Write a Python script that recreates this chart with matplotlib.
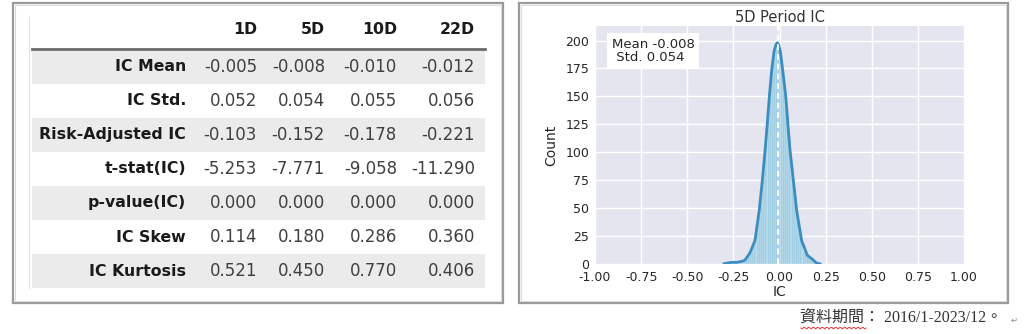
import numpy as np
import matplotlib.pyplot as plt
from matplotlib.patches import Rectangle

plt.rcParams["axes.unicode_minus"] = False

# ---- table data ----
periods = ["1D", "5D", "10D", "22D"]
row_names = ["IC Mean", "IC Std.", "Risk-Adjusted IC", "t-stat(IC)",
             "p-value(IC)", "IC Skew", "IC Kurtosis"]
ic_mean = [-0.005, -0.008, -0.010, -0.012]
ic_std = [0.052, 0.054, 0.055, 0.056]
risk_adj_ic = [-0.103, -0.152, -0.178, -0.221]
t_stat = [-5.253, -7.771, -9.058, -11.290]
p_value = [0.000, 0.000, 0.000, 0.000]
ic_skew = [0.114, 0.180, 0.286, 0.360]
ic_kurt = [0.521, 0.450, 0.770, 0.406]
table_rows = [ic_mean, ic_std, risk_adj_ic, t_stat, p_value, ic_skew, ic_kurt]

# ---- 5D IC histogram (bin width 0.01, first bin starts at -0.28) ----
bin_left = -0.28
bin_width = 0.01
bin_counts = [1, 1, 2, 1, 2, 1, 2, 2, 3, 4, 5, 8, 11, 15, 20, 30, 41, 55,
              72, 88, 108, 128, 150, 168, 184, 193, 197, 196, 190, 178, 163,
              148, 127, 106, 90, 74, 58, 45, 33, 24, 17, 12, 9, 6, 5, 4, 3,
              2, 1, 1]
kde_x = [-0.30, -0.26, -0.23, -0.20, -0.187, -0.16, -0.133, -0.11, -0.093,
         -0.078, -0.069, -0.055, -0.042, -0.030, -0.020, -0.012, -0.004,
         0.005, 0.017, 0.034, 0.048, 0.057, 0.075, 0.093, 0.12, 0.15,
         0.183, 0.20, 0.22]
kde_y = [0.3, 1.5, 1.5, 2.5, 3.5, 10, 21, 48, 75, 102, 120, 150, 174, 190,
         196, 198, 196, 190, 174, 150, 120, 102, 75, 48, 21, 8, 3.5, 1, 0]
mean_5d = -0.008
std_5d = 0.054

fig = plt.figure(figsize=(10.24, 3.34), dpi=100)

# background layer in pixel units for the table and frames
bg = fig.add_axes([0, 0, 1, 1])
bg.set_xlim(0, 1024)
bg.set_ylim(334, 0)
bg.axis("off")

for x0, x1 in [(12.5, 503), (519, 1008)]:
    bg.add_patch(Rectangle((x0, 3), x1 - x0, 300, fill=False,
                           edgecolor="#9a9a9a", lw=1.6))
    bg.add_patch(Rectangle((x0 + 2, 5), x1 - x0 - 4, 296, fill=False,
                           edgecolor="#dcdcdc", lw=0.8))

# table
col_x = [257, 325, 397, 475]
label_x = 186
row_y0, row_h = 66.5, 34.1
tbl_l, tbl_r = 32, 485

bg.plot([29, 29], [17, 288], color="#d6e4f0", lw=0.8)
for i, name in enumerate(row_names):
    yc = row_y0 + i * row_h
    if i % 2 == 0:
        bg.add_patch(Rectangle((tbl_l, yc - row_h / 2), tbl_r - tbl_l, row_h,
                               facecolor="#ebebeb", edgecolor="none"))
    bg.text(label_x, yc, name, ha="right", va="center", fontsize=11.3,
            fontweight="bold", color="#1a1a1a")
    for x, v in zip(col_x, table_rows[i]):
        bg.text(x, yc, f"{v:.3f}", ha="right", va="center", fontsize=12,
                color="#404040")
for x, p in zip(col_x, periods):
    bg.text(x, 30, p, ha="right", va="center", fontsize=11.3,
            fontweight="bold", color="#1a1a1a")
bg.plot([tbl_l, tbl_r], [48.5, 48.5], color="#6a6a6a", lw=2)

# histogram panel
ax = fig.add_axes([595 / 1024, 70 / 334, 369 / 1024, 238 / 334])
ax.set_facecolor("#e5e5ef")
edges = bin_left + bin_width * np.arange(len(bin_counts) + 1)
ax.bar(edges[:-1], bin_counts, width=bin_width, align="edge",
       color="#94c7e0", edgecolor="#eef6fb", lw=0.25, zorder=2)
ax.plot(kde_x, kde_y, color="#3b8dc0", lw=2, zorder=3)
ax.axvline(mean_5d, ymax=1.03, color="white", ls=(0, (3, 2)), lw=1.4,
           zorder=4, clip_on=False)
ax.set_xlim(-1, 1)
ax.set_ylim(0, 213)
ax.set_xticks(np.arange(-1, 1.01, 0.25))
ax.set_yticks(np.arange(0, 201, 25))
ax.grid(True, color="white", lw=1, zorder=0)
ax.set_axisbelow(True)
for s in ax.spines.values():
    s.set_visible(False)
ax.tick_params(length=0, labelsize=9, colors="#262626")
ax.tick_params(axis="x", pad=5)
ax.tick_params(axis="y", pad=4)
ax.set_xlabel("IC", fontsize=10, color="#262626", labelpad=1)
ax.set_ylabel("Count", fontsize=10, color="#262626", labelpad=5)
ax.set_title("5D Period IC", fontsize=10.5, color="#333333", pad=3)
ax.text(0.045, 0.95, f"Mean {mean_5d:.3f}\n Std. {std_5d:.3f}",
        transform=ax.transAxes, ha="left", va="top", fontsize=9.5,
        color="#262626", linespacing=1.0,
        bbox=dict(facecolor="white", edgecolor="none", pad=3.5))

# data period note
bg.text(1002, 318, "資料期間： 2016/1-2023/12。", ha="right",
        va="center", fontsize=11.5, color="#333333",
        family=["Liberation Serif", "Noto Sans CJK TC"])
bg.text(1014, 320, "↵", ha="center", va="center", fontsize=6,
        color="#888888", family=["DejaVu Sans"])

# spell-check squiggle under the first four characters
wx = np.linspace(801, 866, 45)
bg.plot(wx, 328 + 1.0 * np.sin((wx - 801) * 1.4), color="#e03a3a", lw=0.7)

fig.savefig("out.png", dpi=100)
